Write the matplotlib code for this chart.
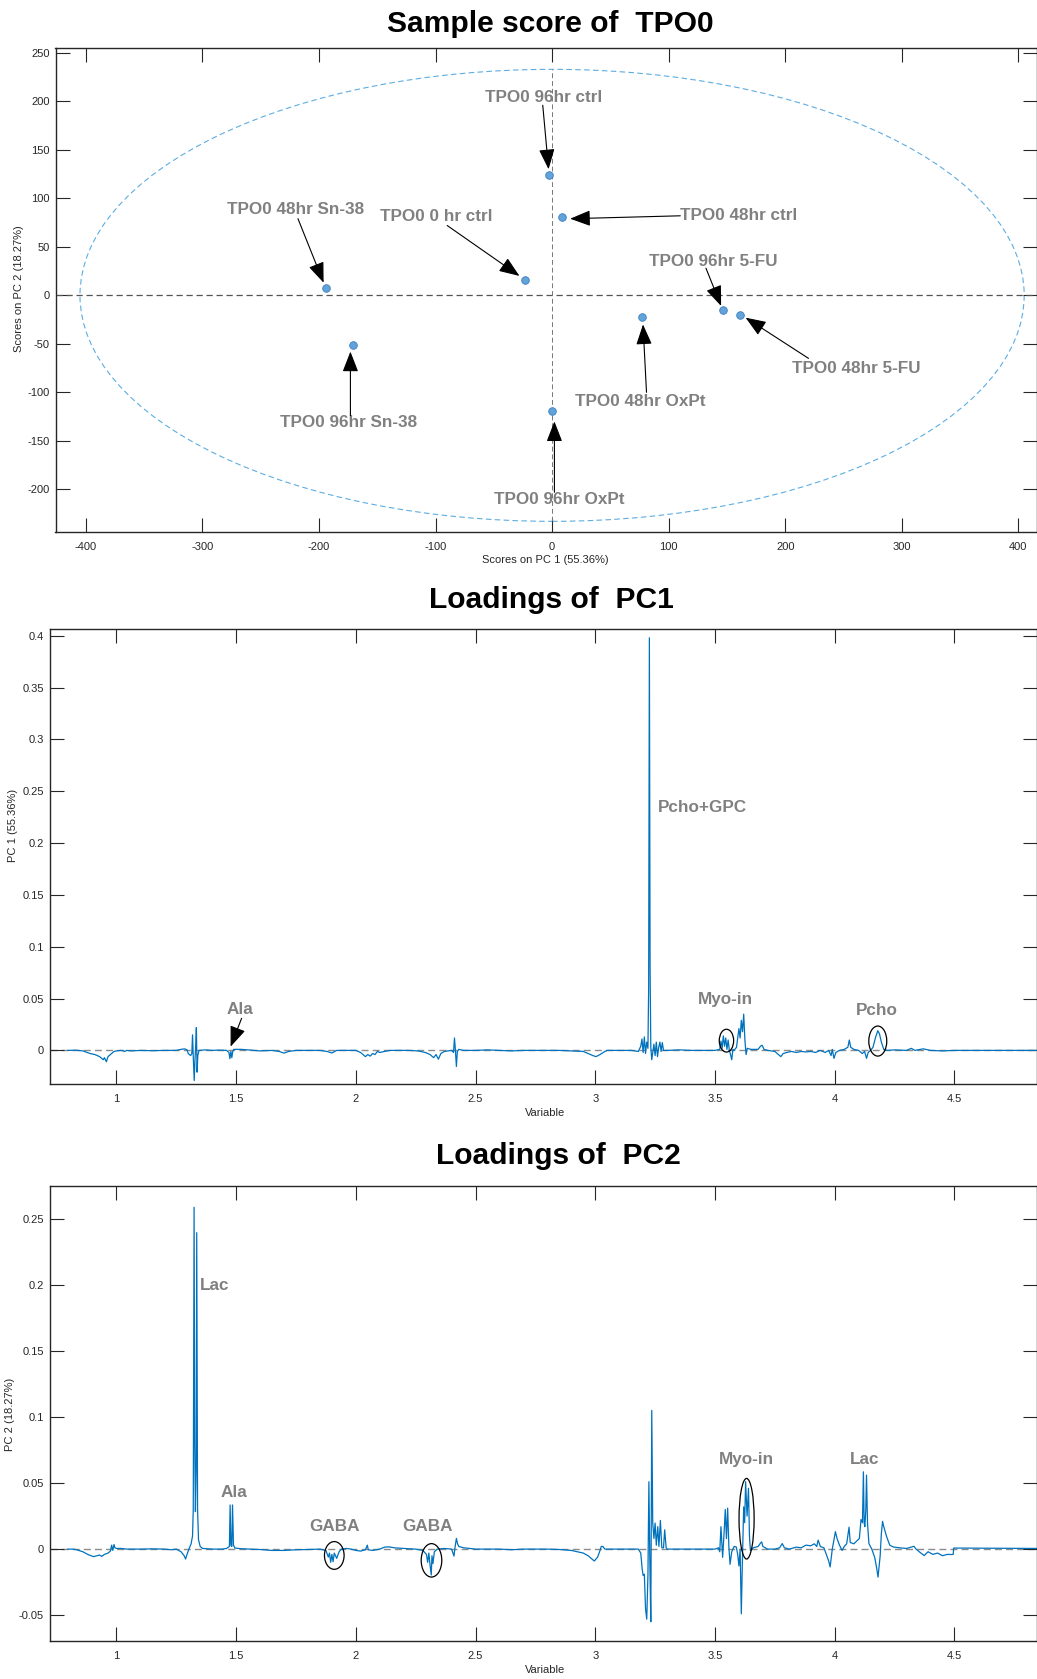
import numpy as np
import matplotlib
matplotlib.use("Agg")
import matplotlib.pyplot as plt
from matplotlib.patches import Ellipse
from matplotlib.ticker import FuncFormatter

plt.rcParams['font.family'] = ['Liberation Sans', 'DejaVu Sans']

# ---- score plot data ----
sample_names = ['TPO0 96hr ctrl', 'TPO0 48hr ctrl', 'TPO0 0 hr ctrl', 'TPO0 48hr Sn-38',
                'TPO0 96hr Sn-38', 'TPO0 48hr OxPt', 'TPO0 96hr 5-FU', 'TPO0 48hr 5-FU',
                'TPO0 96hr OxPt']
scores_pc1 = [-2.6, 8.8, -23, -194, -171, 77, 147, 161, 0]
scores_pc2 = [124, 80.6, 15.9, 7.7, -50.7, -22.4, -15, -19.8, -119]
ellipse_axes = (405, 233)   # semi-axes of the confidence ellipse

# label text position, arrow tail, arrow head (score plot)
score_notes = [
    ((-7, 204), 'center', (-8, 196), (-3, 130)),
    ((110, 82), 'left', (110, 82), (15.5, 79)),
    ((-99, 81), 'center', (-90, 72), (-28, 20)),
    ((-220, 88), 'center', (-218, 79), (-196, 13)),
    ((-175, -131), 'center', (-173, -124), (-173, -58)),
    ((76, -109), 'center', (81, -100), (78, -30)),
    ((138, 35), 'center', (132, 28), (145, -11)),
    ((261, -75), 'center', (220, -65), (166, -23)),
    ((6, -210), 'center', (2, -203), (2, -130)),
]

# ---- PC1 loadings ----
pc1_x = [0.797, 0.83, 0.86, 0.89, 0.91, 0.93, 0.945, 0.95, 0.958, 0.965, 0.975, 0.99, 1.00, 1.02,
         1.035, 1.043, 1.06, 1.10, 1.15, 1.20, 1.25, 1.27, 1.285, 1.295, 1.30, 1.31, 1.315, 1.318,
         1.321, 1.325, 1.328, 1.331, 1.334, 1.337, 1.340, 1.345, 1.37, 1.40, 1.43, 1.46, 1.47,
         1.474, 1.478, 1.482, 1.486, 1.49, 1.52, 1.55, 1.60, 1.65, 1.68, 1.70, 1.72, 1.75, 1.80,
         1.85, 1.88, 1.90, 1.92, 1.96, 2.00, 2.02, 2.04, 2.05, 2.06, 2.07, 2.08, 2.09, 2.10, 2.12,
         2.143, 2.18, 2.22, 2.26, 2.29, 2.31, 2.325, 2.335, 2.345, 2.355, 2.37, 2.40, 2.408, 2.412,
         2.416, 2.42, 2.424, 2.43, 2.45, 2.50, 2.55, 2.60, 2.65, 2.70, 2.75, 2.80, 2.85, 2.90, 2.95,
         2.97, 2.99, 3.003, 3.02, 3.04, 3.05, 3.10, 3.15, 3.18, 3.19, 3.195, 3.20, 3.205, 3.21,
         3.215, 3.22, 3.223, 3.226, 3.229, 3.232, 3.236, 3.24, 3.245, 3.25, 3.255, 3.26, 3.265,
         3.27, 3.275, 3.28, 3.285, 3.30, 3.35, 3.40, 3.45, 3.50, 3.52, 3.525, 3.53, 3.535, 3.54,
         3.545, 3.55, 3.555, 3.56, 3.565, 3.57, 3.575, 3.58, 3.59, 3.60, 3.605, 3.61, 3.615, 3.62,
         3.625, 3.63, 3.635, 3.65, 3.68, 3.69, 3.697, 3.705, 3.72, 3.75, 3.765, 3.775, 3.785, 3.80,
         3.82, 3.84, 3.86, 3.88, 3.90, 3.92, 3.94, 3.96, 3.975, 3.985, 3.99, 3.997, 4.005, 4.02,
         4.04, 4.055, 4.061, 4.067, 4.08, 4.10, 4.115, 4.125, 4.133, 4.14, 4.15, 4.16, 4.17, 4.18,
         4.187, 4.195, 4.205, 4.22, 4.25, 4.30, 4.32, 4.335, 4.37, 4.38, 4.40, 4.45, 4.50, 4.60,
         4.70, 4.85]
pc1_y = [0.0, 0.0002, -0.0005, -0.003, -0.004, -0.006, -0.009, -0.007, -0.011, -0.006, -0.004,
         -0.001, -0.0005, 0.0, -0.001, 0.0, -0.0005, 0.0, -0.0003, 0.0, 0.0, 0.001, 0.0015, 0.0005,
         -0.003, -0.005, -0.003, 0.015, -0.006, -0.029, -0.010, 0.004, 0.022, -0.021, -0.005, 0.0,
         0.0005, 0.0, 0.0003, 0.0, -0.002, -0.008, -0.001, -0.007, -0.001, 0.001, 0.001, 0.0005,
         -0.0005, 0.0, -0.001, -0.0026, -0.001, 0.0, 0.0, 0.0, -0.001, -0.0025, 0.0, 0.0, 0.0,
         -0.002, -0.006, -0.004, -0.0055, -0.003, -0.004, -0.001, -0.002, -0.001, 0.0, 0.0, 0.0,
         -0.0005, -0.002, -0.004, -0.007, -0.004, -0.0085, -0.003, -0.001, 0.0, -0.002, 0.012, 0.0,
         -0.0155, -0.001, 0.001, 0.0, 0.0, 0.0005, 0.0, -0.0005, 0.0, 0.0, 0.0, 0.0, -0.0005, -0.001,
         -0.003, -0.005, -0.006, -0.004, -0.001, 0.0, 0.0, 0.0, -0.001, 0.004, 0.011, -0.002, 0.013,
         -0.003, 0.008, 0.002, 0.06, 0.398, 0.08, 0.003, -0.009, -0.002, 0.006, -0.005, 0.008,
         -0.006, 0.003, 0.008, -0.001, 0.0075, 0.0, 0.0, 0.0005, 0.0, 0.0, 0.0, 0.001, 0.009, 0.002,
         0.014, 0.004, 0.012, 0.001, 0.010, 0.0, -0.004, -0.009, 0.001, 0.0, 0.003, 0.021, 0.012,
         0.029, 0.018, 0.035, 0.010, -0.004, 0.002, 0.001, 0.001, 0.004, 0.005, 0.001, 0.0, -0.001,
         -0.004, -0.006, -0.003, -0.002, -0.001, -0.002, -0.001, -0.0015, -0.001, -0.002, 0.0,
         -0.002, 0.0, -0.005, 0.001, -0.0077, -0.002, 0.0, 0.001, 0.003, 0.010, 0.003, 0.001, 0.0,
         -0.003, -0.001, -0.0077, -0.002, 0.0, 0.003, 0.012, 0.019, 0.016, 0.008, 0.001, 0.0,
         0.0005, 0.0, 0.002, 0.0, 0.0015, 0.001, 0.0, -0.0005, 0.0, 0.0, 0.0, 0.0]

# ---- PC2 loadings ----
pc2_x = [0.797, 0.82, 0.834, 0.86, 0.88, 0.904, 0.92, 0.93, 0.939, 0.95, 0.965, 0.975, 0.98,
         0.985, 0.99, 0.994, 1.00, 1.02, 1.043, 1.10, 1.15, 1.20, 1.23, 1.25, 1.27, 1.283, 1.289,
         1.295, 1.305, 1.312, 1.318, 1.321, 1.3245, 1.327, 1.330, 1.333, 1.3355, 1.339, 1.343,
         1.350, 1.36, 1.40, 1.44, 1.46, 1.472, 1.475, 1.478, 1.482, 1.485, 1.489, 1.495, 1.52, 1.56,
         1.60, 1.65, 1.70, 1.75, 1.80, 1.85, 1.875, 1.885, 1.89, 1.895, 1.90, 1.905, 1.91, 1.92,
         1.93, 1.94, 1.96, 1.98, 2.00, 2.02, 2.04, 2.048, 2.052, 2.07, 2.10, 2.12, 2.139, 2.16,
         2.20, 2.25, 2.28, 2.295, 2.30, 2.305, 2.31, 2.315, 2.318, 2.322, 2.328, 2.34, 2.37, 2.40,
         2.41, 2.414, 2.42, 2.425, 2.43, 2.45, 2.50, 2.55, 2.60, 2.65, 2.70, 2.80, 2.85, 2.90, 2.95,
         2.97, 2.99, 2.996, 3.01, 3.02, 3.025, 3.032, 3.04, 3.10, 3.15, 3.18, 3.19, 3.196, 3.20,
         3.205, 3.21, 3.215, 3.22, 3.224, 3.228, 3.232, 3.236, 3.24, 3.245, 3.25, 3.255, 3.261,
         3.266, 3.272, 3.278, 3.285, 3.29, 3.296, 3.30, 3.35, 3.40, 3.45, 3.50, 3.515, 3.52, 3.525,
         3.532, 3.538, 3.543, 3.548, 3.553, 3.558, 3.563, 3.57, 3.58, 3.589, 3.595, 3.60, 3.605,
         3.61, 3.615, 3.62, 3.624, 3.628, 3.634, 3.64, 3.644, 3.648, 3.66, 3.68, 3.69, 3.695, 3.70,
         3.72, 3.75, 3.77, 3.781, 3.79, 3.81, 3.84, 3.86, 3.88, 3.90, 3.915, 3.925, 3.931, 3.94,
         3.955, 3.965, 3.975, 3.981, 3.99, 4.003, 4.01, 4.02, 4.031, 4.04, 4.05, 4.06, 4.065, 4.08,
         4.096, 4.103, 4.11, 4.116, 4.12, 4.123, 4.126, 4.13, 4.133, 4.137, 4.143, 4.155, 4.167,
         4.175, 4.181, 4.19, 4.195, 4.20, 4.205, 4.217, 4.23, 4.245, 4.27, 4.30, 4.331, 4.34, 4.36,
         4.374, 4.39, 4.41, 4.43, 4.45, 4.47, 4.488, 4.495, 4.497, 4.60, 4.70, 4.85]
pc2_y = [0.0, 0.0, -0.0005, -0.002, -0.004, -0.0057, -0.005, -0.0045, -0.0055, -0.004, -0.003,
         -0.0015, 0.003, -0.001, 0.0035, 0.001, 0.0005, 0.0005, 0.0, 0.0, 0.0002, 0.0, -0.0005, 0.0,
         -0.002, -0.005, -0.0075, -0.004, 0.001, 0.004, 0.010, 0.03, 0.2587, 0.08, 0.0283, 0.06,
         0.2395, 0.03, 0.007, 0.002, 0.0005, 0.0, 0.0, 0.0005, 0.002, 0.0334, 0.003, 0.002, 0.0334,
         0.003, 0.0008, 0.0003, 0.0, -0.0003, -0.001, -0.001, -0.0005, -0.0003, 0.0, -0.001, -0.006,
         -0.003, -0.010, -0.004, -0.0095, -0.003, -0.007, -0.002, 0.0, 0.0005, 0.0, -0.001, -0.0015,
         -0.0005, 0.003, -0.0005, -0.001, 0.0, 0.0015, 0.0017, 0.001, 0.0005, 0.0, -0.001, -0.004,
         -0.010, -0.003, -0.012, -0.0196, -0.005, -0.011, -0.002, 0.0, 0.0005, 0.0, -0.0053, 0.001,
         0.0081, 0.004, 0.002, 0.001, 0.0, 0.0, 0.0, -0.0005, 0.0, 0.0, -0.0003, -0.001, -0.003,
         -0.005, -0.008, -0.009, -0.006, -0.001, 0.002, 0.002, 0.0, 0.0, 0.0, 0.0, -0.003, -0.015,
         -0.02, -0.019, -0.045, -0.053, -0.02, 0.051, -0.01, -0.055, 0.105, 0.02, 0.008, 0.0197,
         0.003, 0.017, 0.002, 0.0217, 0.001, 0.001, 0.0146, 0.001, 0.0, 0.0, 0.0, 0.0, 0.0, 0.001,
         -0.002, 0.017, -0.0062, 0.012, 0.030, 0.008, 0.031, 0.002, -0.0115, -0.002, 0.002, 0.0016,
         -0.004, -0.0127, 0.0, -0.049, -0.005, 0.032, 0.02, 0.051, 0.025, 0.046, 0.01, -0.0011,
         0.001, 0.002, 0.0045, 0.0055, 0.002, 0.0, 0.0, 0.001, 0.0042, 0.001, 0.0, 0.0015, 0.001,
         0.003, 0.0025, 0.004, 0.002, 0.0068, 0.002, 0.001, -0.004, -0.009, -0.0135, 0.0, 0.0132,
         0.008, 0.003, -0.001, 0.002, 0.004, 0.0166, 0.005, 0.004, 0.0068, 0.008, 0.0224, 0.02,
         0.0585, 0.02, 0.017, 0.03, 0.056, 0.02, 0.0042, 0.0, -0.0062, -0.014, -0.0212, -0.005,
         0.012, 0.021, 0.017, 0.0094, 0.003, 0.0016, 0.001, 0.0005, 0.0021, 0.0, -0.003, -0.0049,
         -0.002, -0.004, -0.003, -0.005, -0.004, -0.0041, -0.004, 0.0008, 0.0007, 0.0006, 0.0005]

# annotations on loadings: (text, x, y)
pc1_labels = [('Pcho+GPC', 3.261, 0.234, 'left'), ('Myo-in', 3.543, 0.049, 'center'),
              ('Pcho', 4.174, 0.0388, 'center'), ('Ala', 1.516, 0.039, 'center')]
pc1_circles = [(3.548, 0.0094, 0.06, 0.022), (4.18, 0.009, 0.075, 0.029)]
pc2_labels = [('Lac', 1.349, 0.1994, 'left'), ('Ala', 1.489, 0.043, 'center'),
              ('GABA', 1.91, 0.017, 'center'), ('GABA', 2.299, 0.017, 'center'),
              ('Myo-in', 3.633, 0.068, 'center'), ('Lac', 4.125, 0.068, 'center')]
pc2_circles = [(1.91, -0.0048, 0.082, 0.021), (2.316, -0.0085, 0.086, 0.0253),
               (3.632, 0.023, 0.063, 0.061)]

LINE = '#0072BD'
GRAYTXT = '#808080'
W, H = 1037, 1679

fig = plt.figure(figsize=(W / 100, H / 100), dpi=100)


def box(l, t, r, b):
    return [l / W, 1 - b / H, (r - l) / W, (b - t) / H]


def style(ax):
    ax.tick_params(direction='in', length=10, width=0.8, top=True, right=True,
                   labelsize=8, colors='#262626', pad=4)
    ax.tick_params(axis='x', pad=7)
    for s in ax.spines.values():
        s.set_color('#262626')
        s.set_linewidth(1.0)
    ax.xaxis.set_major_formatter(FuncFormatter(lambda v, p: '%g' % round(v, 4)))
    ax.yaxis.set_major_formatter(FuncFormatter(lambda v, p: '%g' % round(v, 4)))


# ---------- score plot ----------
ax1 = fig.add_axes(box(55.5, 48, 1037, 532))
style(ax1)
ax1.set_xlim(-426, 416)
ax1.set_ylim(-244, 255)
ax1.set_xticks(np.arange(-400, 401, 100))
ax1.set_yticks(np.arange(-200, 251, 50))
ax1.add_patch(Ellipse((0, 0), 2 * ellipse_axes[0], 2 * ellipse_axes[1], fill=False,
                      ec='#5DADE2', lw=0.8, ls=(0, (5, 3))))
ax1.axhline(0, color='#555555', lw=0.9, ls=(0, (5, 3)))
ax1.plot([0, 0], [-ellipse_axes[1], ellipse_axes[1]], color='#777777', lw=0.7, ls=(0, (5, 3)))
ax1.scatter(scores_pc1, scores_pc2, s=30, c='#62A3D9', edgecolors='#3C7DBF', linewidths=0.6,
            zorder=5)
for name, (tpos, ha, tail, head) in zip(sample_names, score_notes):
    ax1.text(tpos[0], tpos[1], name, ha=ha, va='center', color=GRAYTXT, fontsize=12.3,
             fontweight='bold', zorder=6)
    ax1.annotate('', xy=head, xytext=tail,
                 arrowprops=dict(arrowstyle='-|>,head_length=0.9,head_width=0.35',
                                 color='black', lw=0.8, mutation_scale=14,
                                 shrinkA=0, shrinkB=0), zorder=7)
fig.text(550 / W, 1 - 23.5 / H, 'Sample score of  TPO0', ha='center', va='center',
         fontsize=21.6, fontweight='bold')
fig.text(545 / W, 1 - 560 / H, 'Scores on PC 1 (55.36%)', ha='center', va='center',
         fontsize=8, color='#262626')
fig.text(19 / W, 1 - 289 / H, 'Scores on PC 2 (18.27%)', ha='center', va='center',
         fontsize=8, color='#262626', rotation=90)


def loading_axes(top, bottom, ylim, yticks, x, y, labels, circles):
    ax = fig.add_axes(box(49.6, top, 1037, bottom))
    style(ax)
    ax.set_xlim(0.721, 4.845)
    ax.set_ylim(*ylim)
    ax.set_xticks(np.arange(1, 4.6, 0.5))
    ax.set_yticks(yticks)
    ax.axhline(0, color='#8C8C8C', lw=1.0, ls=(0, (5, 3)), zorder=1)
    ax.plot(x, y, color=LINE, lw=0.9, zorder=2)
    for txt, tx, ty, ha in labels:
        ax.text(tx, ty, txt, ha=ha, va='center', color=GRAYTXT, fontsize=12.3,
                fontweight='bold', zorder=4)
    for cx, cy, cw, ch in circles:
        ax.add_patch(Ellipse((cx, cy), cw, ch, fill=False, ec='black', lw=0.9, zorder=3))
    return ax


ax2 = loading_axes(629, 1084.3, (-0.0327, 0.4065), np.arange(0, 0.401, 0.05),
                   pc1_x, pc1_y, pc1_labels, pc1_circles)
ax2.annotate('', xy=(1.477, 0.0036), xytext=(1.523, 0.031),
             arrowprops=dict(arrowstyle='-|>,head_length=0.9,head_width=0.35', color='black',
                             lw=0.8, mutation_scale=14, shrinkA=0, shrinkB=0), zorder=7)
fig.text(551.7 / W, 1 - 599.8 / H, 'Loadings of  PC1', ha='center', va='center',
         fontsize=21.6, fontweight='bold')
fig.text(545 / W, 1 - 1113 / H, 'Variable', ha='center', va='center', fontsize=8,
         color='#262626')
fig.text(13 / W, 1 - 825 / H, 'PC 1 (55.36%)', ha='center', va='center', fontsize=8,
         color='#262626', rotation=90)

ax3 = loading_axes(1186.3, 1641.2, (-0.0697, 0.2746), np.arange(-0.05, 0.251, 0.05),
                   pc2_x, pc2_y, pc2_labels, pc2_circles)
fig.text(558 / W, 1 - 1155.5 / H, 'Loadings of  PC2', ha='center', va='center',
         fontsize=21.6, fontweight='bold')
fig.text(545 / W, 1 - 1670 / H, 'Variable', ha='center', va='center', fontsize=8,
         color='#262626')
fig.text(10 / W, 1 - 1414 / H, 'PC 2 (18.27%)', ha='center', va='center', fontsize=8,
         color='#262626', rotation=90)

fig.savefig('out.png', dpi=100)
